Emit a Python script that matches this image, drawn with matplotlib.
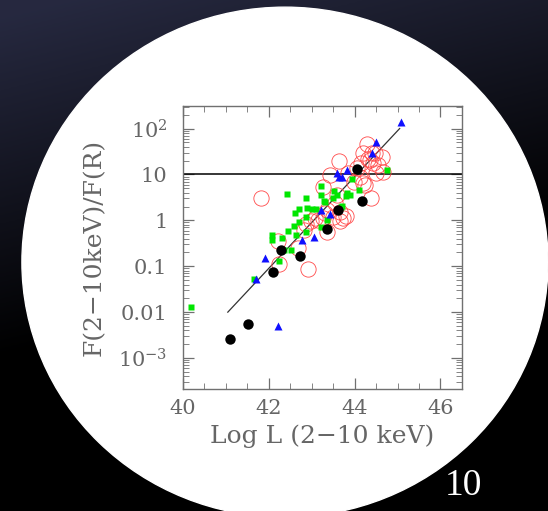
import numpy as np
import matplotlib
matplotlib.use("Agg")
import matplotlib.pyplot as plt
from matplotlib.patches import Ellipse
from matplotlib.ticker import LogLocator, MultipleLocator, FixedLocator, NullFormatter

plt.rcParams['mathtext.fontset'] = 'dejavuserif'

# Data: log L (2-10 keV) and F(2-10keV)/F(R)
black_L = [41.10, 41.53, 42.11, 42.28, 42.73, 43.35, 43.62, 44.05, 44.18]
black_F = [0.0026, 0.0054, 0.074, 0.23, 0.17, 0.64, 1.7, 13.0, 2.6]

blue_L = [45.07, 44.49, 44.41, 43.83, 43.58, 43.64, 43.71, 43.23, 43.43,
          42.77, 43.05, 41.91, 41.70, 42.21]
blue_F = [136, 50, 28.8, 12.5, 11.0, 8.9, 8.6, 1.68, 1.35,
          0.37, 0.44, 0.153, 0.052, 0.0051]

green_L = [40.19, 41.66, 42.24, 42.07, 42.09, 42.32, 42.42, 42.46, 42.59, 42.61,
           42.71, 42.71, 42.64, 42.53, 42.86, 42.90, 42.87, 42.88, 43.02, 43.10,
           43.23, 43.23, 43.29, 43.35, 43.23, 43.53, 43.58, 43.49, 43.71, 43.83,
           43.89, 43.81, 43.93, 44.11, 44.76, 42.36, 43.68, 43.31]
green_F = [0.013, 0.054, 0.13, 0.48, 0.38, 0.41, 3.7, 0.58, 0.75, 1.42,
           1.73, 0.93, 0.49, 0.225, 3.0, 1.9, 1.2, 0.56, 1.8, 1.8,
           5.7, 3.5, 2.7, 1.0, 0.72, 4.4, 3.6, 3.1, 2.1, 3.9,
           3.5, 3.4, 8.1, 4.6, 12.3, 0.23, 2.0, 2.5]

red_L = [41.83, 42.22, 42.25, 42.91, 42.68, 42.83, 42.88, 42.99, 43.07, 43.16,
         43.27, 43.35, 43.35, 43.31, 43.50, 43.55, 43.58, 43.67, 43.67, 43.74,
         43.80, 43.27, 43.43, 43.64, 43.85, 43.98, 44.12, 44.20, 44.24, 44.38,
         44.29, 44.20, 44.32, 44.40, 44.47, 44.63, 44.55, 44.43, 44.36, 44.16,
         44.67, 44.50, 44.05]
red_F = [3.0, 0.36, 0.11, 0.088, 0.25, 0.62, 0.85, 0.95, 1.1, 1.0,
         1.15, 0.57, 1.65, 1.45, 1.2, 2.4, 3.6, 1.55, 0.97, 1.1,
         1.25, 5.3, 9.5, 19.5, 11.0, 7.0, 9.0, 6.5, 5.8, 3.0,
         47.0, 29.0, 22.0, 30.0, 29.0, 24.5, 16.0, 17.5, 20.5, 17.5,
         11.5, 10.5, 14.0]

fit_L = [41.05, 45.05]
fit_F = [0.01, 100.0]

x_ticks = [40, 42, 44, 46]
y_ticks = [1e-3, 1e-2, 1e-1, 1, 10, 100]
y_ticklabels = [r'$10^{-3}$', '0.01', '0.1', '1', '10', r'$10^2$']

fig = plt.figure(figsize=(5.48, 5.11), dpi=100)

# dark slide background
bg = fig.add_axes([0, 0, 1, 1], zorder=-2)
yy, xx = np.mgrid[0:1:256j, 0:1:256j]
shade = np.clip(1.05 - 1.5 * yy - 0.4 * xx, 0, 1)
img = np.dstack([0.15 * shade, 0.16 * shade, 0.25 * shade])
bg.imshow(img, extent=[0, 1, 0, 1], aspect='auto', origin='upper')
bg.add_patch(Ellipse((0.520, 0.487), 0.960, 0.998, color='white'))
bg.set_xlim(0, 1)
bg.set_ylim(0, 1)
bg.axis('off')

ax = fig.add_axes([0.3334, 0.2387, 0.5096, 0.5538])
ax.set_facecolor('white')
ax.set_yscale('log')
ax.set_xlim(40, 46.5)
ax.set_ylim(10**-3.675, 10**2.49)

ax.axhline(10, color='black', lw=1.1, zorder=2)
ax.plot(fit_L, fit_F, color='#333333', lw=0.9, zorder=2)

ax.plot(red_L, red_F, 'o', ms=11, mfc='none', mec='#ff4848', mew=0.6, zorder=3)
ax.plot(green_L, green_F, 's', ms=5, color='#00e600', mec='none', zorder=4)
ax.plot(blue_L, blue_F, '^', ms=6, color='#1010ff', mec='none', zorder=5)
ax.plot(black_L, black_F, 'o', ms=7.5, color='black', mec='none', zorder=6)

gray = '#707070'
txt = '#666666'
for s in ax.spines.values():
    s.set_color(gray)
    s.set_linewidth(1.0)

ax.xaxis.set_major_locator(FixedLocator(x_ticks))
ax.xaxis.set_minor_locator(MultipleLocator(0.5))
ax.set_xticklabels([str(t) for t in x_ticks])
ax.yaxis.set_major_locator(FixedLocator(y_ticks))
ax.set_yticklabels(y_ticklabels)
ax.yaxis.set_minor_locator(LogLocator(base=10, subs=np.arange(2, 10), numticks=20))
ax.yaxis.set_minor_formatter(NullFormatter())

ax.tick_params(which='both', direction='in', top=True, right=True, color=gray,
               labelcolor=txt, labelsize=15)
ax.tick_params(which='major', length=8, width=0.9)
ax.tick_params(which='minor', length=4, width=0.6)
ax.tick_params(axis='y', pad=11)
ax.tick_params(axis='x', pad=7)
for lab in ax.get_xticklabels() + ax.get_yticklabels():
    lab.set_family('DejaVu Serif')

ax.set_xlabel('Log L (2\u221210 keV)', family='DejaVu Serif', fontsize=18,
              color=txt, labelpad=5)
ax.set_ylabel('F(2\u221210keV)/F(R)', family='DejaVu Serif', fontsize=18,
              color=txt, labelpad=9)

fig.text(0.845, 0.049, '10', family='Liberation Serif', fontsize=27,
         color='white', ha='center', va='center')

plt.savefig("out.png", dpi=100)
plt.close()
